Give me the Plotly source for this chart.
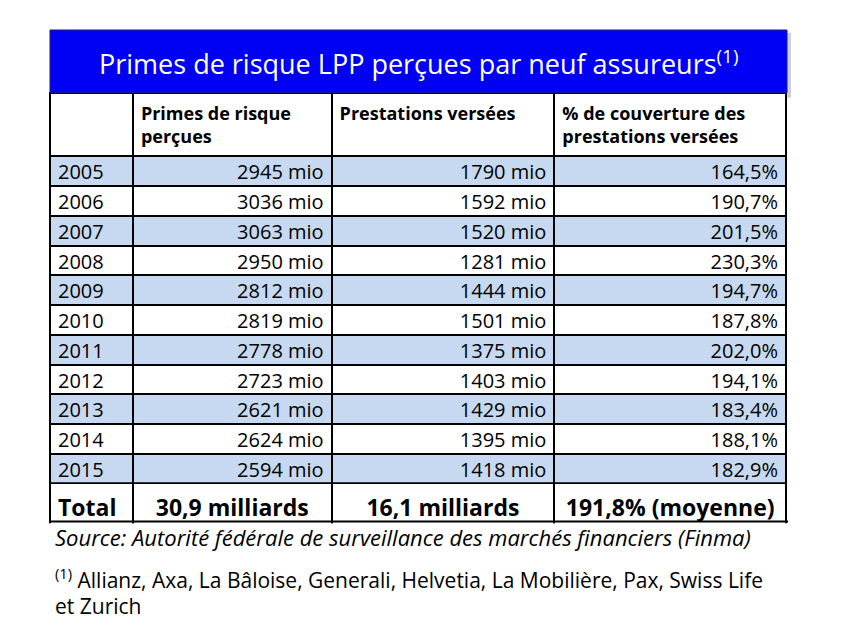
import plotly.graph_objects as go

W, H = 842, 638

title = "Primes de risque LPP perçues par neuf assureurs<sup>(1)</sup>"
col_headers = ["", "Primes de risque<br>perçues", "Prestations versées",
               "% de couverture des<br>prestations versées"]
years = ["2005", "2006", "2007", "2008", "2009", "2010", "2011", "2012", "2013", "2014", "2015"]
primes = [2945, 3036, 3063, 2950, 2812, 2819, 2778, 2723, 2621, 2624, 2594]
prestations = [1790, 1592, 1520, 1281, 1444, 1501, 1375, 1403, 1429, 1395, 1418]
couverture = ["164,5%", "190,7%", "201,5%", "230,3%", "194,7%", "187,8%",
              "202,0%", "194,1%", "183,4%", "188,1%", "182,9%"]
total_row = ["Total", "30,9 milliards", "16,1 milliards", "191,8% (moyenne)"]
source = "Source: Autorité fédérale de surveillance des marchés financiers (Finma)"
footnote_1 = "<sup>(1)</sup> Allianz, Axa, La Bâloise, Generali, Helvetia, La Mobilière, Pax, Swiss Life"
footnote_2 = "et Zurich"

FONT = "Open Sans"
BLUE = "#0000F5"
LIGHT = "#C6D9F0"

# pixel geometry (page coordinates)
OFF = 8  # page body margin
x0, x1 = 50, 787
col_w = [83, 199, 223, 232]
band_top, band_bot = 30, 92.7
head_bot = 155.5
row_h = 29.8
rows_bot = head_bot + row_h * len(years)
total_bot = 521.5

def px_x(v):
    return (v - OFF) / W

def px_y(v):
    return 1 - (v - OFF) / H

row_colors = [LIGHT if i % 2 == 0 else "white" for i in range(len(years))]

fig = go.Figure()

fig.add_trace(go.Table(
    domain=dict(x=[px_x(x0), px_x(x1)], y=[px_y(rows_bot + 2), px_y(band_bot)]),
    columnwidth=col_w,
    header=dict(
        values=[f"<b>{h}</b>" if h else "" for h in col_headers],
        align="left",
        height=head_bot - band_bot,
        fill=dict(color="white"),
        line=dict(color="black", width=2),
        font=dict(family=FONT, size=18, color="black"),
    ),
    cells=dict(
        values=[years,
                [f"{v} mio" for v in primes],
                [f"{v} mio" for v in prestations],
                couverture],
        align=["left", "right", "right", "right"],
        height=row_h,
        fill=dict(color=[row_colors] * 4),
        line=dict(color="black", width=2),
        font=dict(family=FONT, size=20, color="black"),
    ),
))

fig.add_trace(go.Table(
    domain=dict(x=[px_x(x0), px_x(x1)], y=[px_y(total_bot + 2), px_y(rows_bot)]),
    columnwidth=col_w,
    header=dict(
        values=[f"<b>{t}</b>" for t in total_row],
        align=["left", "center", "center", "center"],
        height=total_bot - rows_bot,
        fill=dict(color="white"),
        line=dict(color="black", width=2),
        font=dict(family=FONT, size=23, color="black"),
    ),
    cells=dict(values=[[], [], [], []], height=1,
               line=dict(color="rgba(0,0,0,0)", width=0),
               fill=dict(color="rgba(0,0,0,0)")),
))

shapes = [
    # shadow of the title band
    dict(type="rect", xref="paper", yref="paper",
         x0=px_x(x0 + 3), x1=px_x(x1 + 4), y0=px_y(band_bot + 5), y1=px_y(band_top + 3),
         fillcolor="rgba(120,120,120,0.35)", line=dict(width=0), layer="below"),
    dict(type="rect", xref="paper", yref="paper",
         x0=px_x(x0), x1=px_x(x1), y0=px_y(band_bot), y1=px_y(band_top),
         fillcolor=BLUE, line=dict(color="#1a1a8a", width=1)),
    # bottom border of the total row
    dict(type="line", xref="paper", yref="paper",
         x0=px_x(x0 - 1), x1=px_x(x1 + 1), y0=px_y(total_bot), y1=px_y(total_bot),
         line=dict(color="black", width=2)),
]

annotations = [
    dict(text=title, xref="paper", yref="paper", x=px_x((x0 + x1) / 2), y=px_y((band_top + band_bot) / 2 + 1),
         xanchor="center", yanchor="middle", showarrow=False,
         font=dict(family=FONT, size=27, color="white")),
    dict(text=f"<i>{source}</i>", xref="paper", yref="paper", x=px_x(53), y=px_y(537),
         xanchor="left", yanchor="middle", showarrow=False,
         font=dict(family=FONT, size=22, color="black")),
    dict(text=footnote_1, xref="paper", yref="paper", x=px_x(53), y=px_y(578),
         xanchor="left", yanchor="middle", showarrow=False,
         font=dict(family=FONT, size=21, color="black")),
    dict(text=footnote_2, xref="paper", yref="paper", x=px_x(53), y=px_y(606),
         xanchor="left", yanchor="middle", showarrow=False,
         font=dict(family=FONT, size=21, color="black")),
]

fig.update_layout(
    width=W, height=H,
    margin=dict(l=0, r=0, t=0, b=0),
    paper_bgcolor="white", plot_bgcolor="white",
    shapes=shapes, annotations=annotations,
    font=dict(family=FONT),
)

fig.write_html("out.html")
